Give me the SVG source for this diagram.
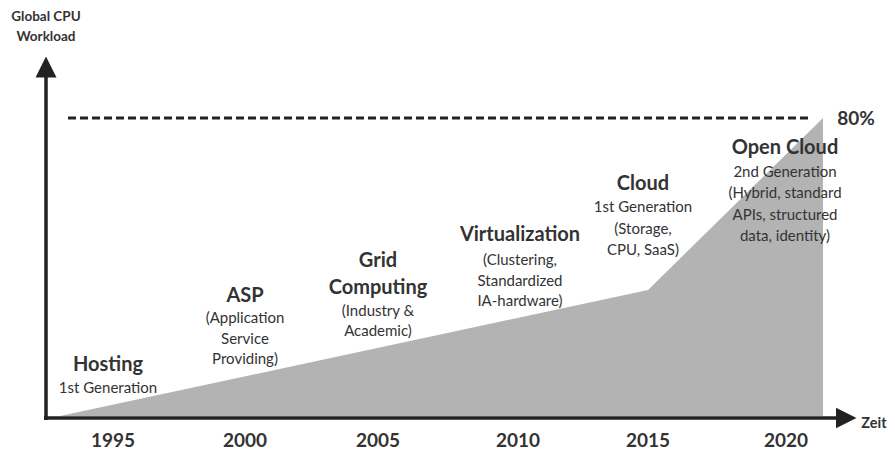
<svg xmlns="http://www.w3.org/2000/svg" width="895" height="451" viewBox="0 0 895 451">
<defs>
<style>
text{font-family:Lato,"Open Sans","Liberation Sans",sans-serif;fill:#333;text-anchor:middle}
.h{font-weight:bold;font-size:20px}
.s{font-size:15px}
.y{font-weight:bold;font-size:19px}
.ax{stroke:#222;stroke-width:3.5;fill:none}
</style>
<marker id="ah" markerWidth="6" markerHeight="6" refX="1" refY="3" orient="auto" markerUnits="strokeWidth">
<path d="M0,0 L6,3 L0,6 Z" fill="#222"/>
</marker>
</defs>
<rect width="895" height="451" fill="#fff"/>
<polygon id="area" points="60,416 648,290 823,118 823,416" fill="#b3b3b3"/>
<g id="connectors">
<line class="ax" x1="46" y1="420" x2="46" y2="74" marker-end="url(#ah)"/>
<line class="ax" x1="44" y1="418" x2="839" y2="418" marker-end="url(#ah)"/>
<line x1="68" y1="118" x2="808" y2="118" stroke="#222" stroke-width="3" stroke-dasharray="8,4"/>
</g>
<g id="axis-labels">
<text x="46" y="21" style="font-weight:bold;font-size:13.5px">Global CPU</text>
<text x="46" y="41" style="font-weight:bold;font-size:13.5px">Workload</text>
<text x="874" y="428" style="font-weight:bold;font-size:14.5px">Zeit</text>
<text x="856" y="125" class="y">80%</text>
<text x="113" y="447" class="y">1995</text>
<text x="245" y="447" class="y">2000</text>
<text x="378" y="447" class="y">2005</text>
<text x="518" y="447" class="y">2010</text>
<text x="648" y="447" class="y">2015</text>
<text x="786" y="447" class="y">2020</text>
</g>
<g id="hosting">
<text x="108" y="371" class="h">Hosting</text>
<text x="108" y="393" class="s">1st Generation</text>
</g>
<g id="asp">
<text x="245" y="302" class="h">ASP</text>
<text x="245" y="323" class="s">(Application</text>
<text x="245" y="344" class="s">Service</text>
<text x="245" y="364" class="s">Providing)</text>
</g>
<g id="grid">
<text x="378" y="267" class="h">Grid</text>
<text x="378" y="294" class="h">Computing</text>
<text x="378" y="316" class="s">(Industry &amp;</text>
<text x="378" y="336" class="s">Academic)</text>
</g>
<g id="virtualization">
<text x="520" y="241" class="h">Virtualization</text>
<text x="520" y="265" class="s">(Clustering,</text>
<text x="520" y="286" class="s">Standardized</text>
<text x="520" y="306" class="s">IA-hardware)</text>
</g>
<g id="cloud">
<text x="643" y="190" class="h">Cloud</text>
<text x="643" y="212" class="s">1st Generation</text>
<text x="643" y="234" class="s">(Storage,</text>
<text x="643" y="255" class="s">CPU, SaaS)</text>
</g>
<g id="open-cloud">
<text x="785" y="154" class="h">Open Cloud</text>
<text x="785" y="177" class="s">2nd Generation</text>
<text x="785" y="198" class="s">(Hybrid, standard</text>
<text x="785" y="220" class="s">APIs, structured</text>
<text x="785" y="241" class="s">data, identity)</text>
</g>
</svg>
